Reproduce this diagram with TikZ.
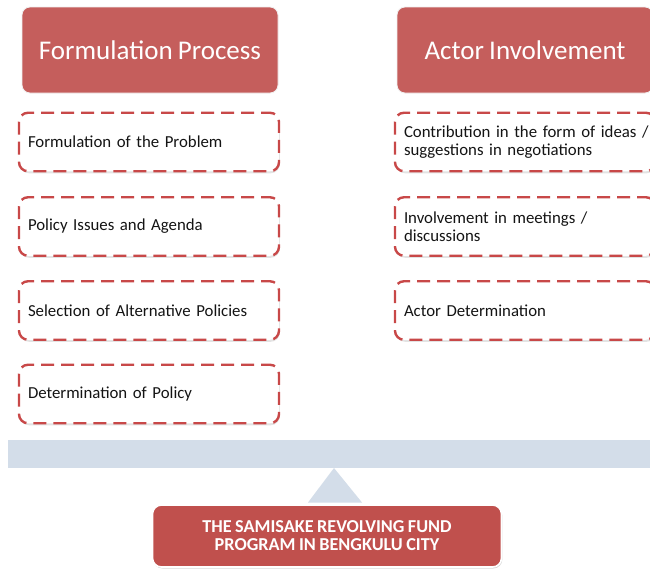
\documentclass[tikz,border=0pt]{standalone}
\usepackage{fontspec}
\setmainfont{Carlito}[WordSpace=0.85]
\usetikzlibrary{shadows}
\definecolor{hdrred}{RGB}{197,94,92}
\definecolor{dashred}{RGB}{200,72,72}
\definecolor{boxred}{RGB}{192,80,77}
\definecolor{barblue}{RGB}{211,221,233}
\begin{document}
\begin{tikzpicture}[x=1pt,y=-1pt,
  header/.style={rounded corners=8pt, fill=hdrred, draw=white!94!black, line width=0.8pt,
    minimum width=256pt, minimum height=86pt, text=white,
    font=\fontsize{27}{32}\selectfont},
  itembox/.style={rounded corners=9pt, fill=white, draw=dashred, line width=2.4pt,
    dash pattern=on 13pt off 7pt, dash phase=4pt,
    minimum width=260pt, minimum height=58.5pt, text width=242pt, inner xsep=9pt,
    align=left, font=\fontsize{16.8}{18}\selectfont, text=black!92,
    drop shadow={opacity=0.22, shadow xshift=0.8pt, shadow yshift=-2pt}},
  program/.style={rounded corners=9pt, fill=boxred, draw=white, line width=1.6pt,
    minimum width=349pt, minimum height=62pt, text=white, align=center,
    font=\fontsize{18.2}{18}\selectfont\bfseries,
    drop shadow={opacity=0.3, shadow xshift=0.8pt, shadow yshift=-1.5pt}}
]
\clip (0,0) rectangle (650,570);
\fill[white] (0,0) rectangle (650,570);

% headers
\node[header] (hp) at (150,50) {Formulation Process};
\node[header] (ha) at (525,50) {Actor Involvement};

% left items
\node[itembox] (l1) at (149,142) {Formulation of the Problem};
\node[itembox] (l2) at (149,226.5) {Policy Issues and Agenda};
\node[itembox] (l3) at (149,310.5) {Selection of Alternative Policies};
\node[itembox] (l4) at (149,394) {Determination of Policy};

% right items
\node[itembox] (r1) at (525,142) {\mbox{Contribution in the form of ideas /}\\suggestions in negotiations};
\node[itembox] (r2) at (525,226.5) {Involvement in meetings /\\discussions};
\node[itembox] (r3) at (525,310.5) {Actor Determination};

% bar
\node[fill=barblue, minimum width=660pt, minimum height=28pt, inner sep=0pt] (bar) at (338,454) {};

% bottom program box
\node[program] (prog) at (327,536) {THE SAMISAKE REVOLVING FUND\\PROGRAM IN BENGKULU CITY};

% triangle linking bar and program box
\coordinate (apex) at (334,468);
\fill[barblue] (apex) -- (308,502.5) -- (362,502.5) -- cycle;
\end{tikzpicture}
\end{document}
